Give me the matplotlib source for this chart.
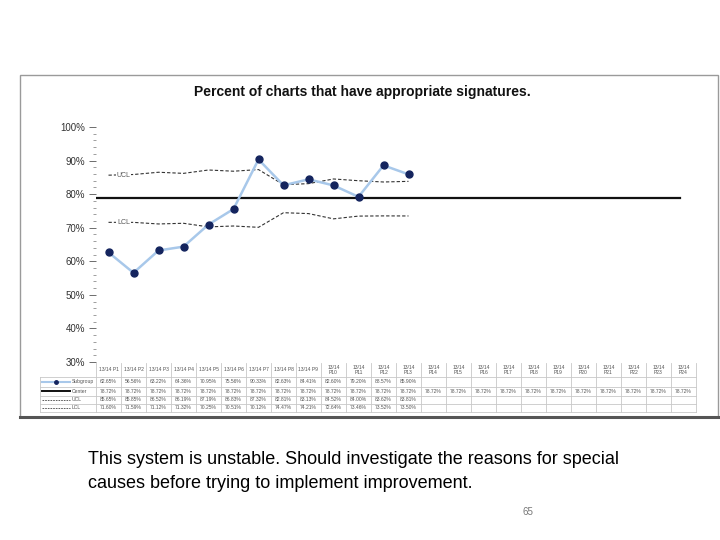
import numpy as np
import matplotlib
matplotlib.use("Agg")
import matplotlib.pyplot as plt
from matplotlib.lines import Line2D
from matplotlib.patches import Rectangle

plt.rcParams['font.family'] = ['Liberation Sans', 'DejaVu Sans']

# periods (24 columns), only 13 have data so far
periods = ["13/14 P%d" % i for i in range(1, 25)]
subgroup = [62.65, 56.56, 63.22, 64.36, 70.95, 75.56, 90.33, 82.63, 84.41, 82.60, 79.20, 88.57, 85.90]
center = [78.72] * 24
ucl = [85.65, 85.85, 86.52, 86.19, 87.19, 86.83, 87.32, 82.81, 83.13, 84.52, 84.00, 83.62, 83.81]
lcl = [71.60, 71.59, 71.12, 71.32, 70.25, 70.51, 70.12, 74.47, 74.21, 72.64, 73.46, 73.52, 73.50]

W, H = 720, 540
fig = plt.figure(figsize=(7.2, 5.4), dpi=100)

def box(x0, y0, x1, y1):
    # pixel box (top-left origin) -> figure fraction rect
    return [x0 / W, 1 - y1 / H, (x1 - x0) / W, (y1 - y0) / H]

# chart frame
fig.patches.append(Rectangle((20 / W, 1 - 417 / H), 698 / W, 342 / H, transform=fig.transFigure,
                             fill=False, edgecolor='#9a9a9a', linewidth=1.0))
fig.lines.append(Line2D([20 / W, 718 / W], [1 - 417 / H] * 2, transform=fig.transFigure,
                        color='#555555', linewidth=2.2))

fig.text(362 / W, 1 - 92 / H, "Percent of charts that have appropriate signatures.",
         ha='center', va='center', fontsize=10, fontweight='bold', color='#111111')

# main chart
ax = fig.add_axes(box(96, 127, 696, 362))
n = len(periods)
x = np.arange(n)
xs = x[:len(subgroup)]
ax.set_xlim(-0.5, n - 0.5)
ax.set_ylim(30, 100)

ax.axhline(center[0], xmin=0.0, xmax=(680 - 96) / 600, color='#111111', linewidth=1.6)
ax.plot(xs, ucl, color='#333333', linewidth=0.8, dashes=(3, 1.8))
ax.plot(xs, lcl, color='#333333', linewidth=0.8, dashes=(3, 1.8))
ax.plot(xs, subgroup, color='#a8c8ea', linewidth=1.8, marker='o', markersize=5,
        markerfacecolor='#14245e', markeredgecolor='#14245e', zorder=4)
ax.text(0.6, ucl[0], "UCL", fontsize=5, color='#555555', ha='center', va='center',
        bbox=dict(facecolor='white', edgecolor='none', pad=0.6))
ax.text(0.6, lcl[0], "LCL", fontsize=5, color='#555555', ha='center', va='center',
        bbox=dict(facecolor='white', edgecolor='none', pad=0.6))

ax.set_yticks(np.arange(30, 101, 10))
ax.set_yticklabels(["%d%%" % v for v in range(30, 101, 10)], fontsize=7, color='#333333')
ax.set_yticks(np.arange(30, 101, 2), minor=True)
ax.tick_params(axis='y', which='major', length=5, width=0.6, color='#555555', pad=3)
ax.tick_params(axis='y', which='minor', length=2, width=0.5, color='#777777')
ax.set_xticks([])
for s in ax.spines.values():
    s.set_visible(False)

# data table under the chart (pixel coordinates)
tx0, tx1 = 40, 696
rows_y = [363, 377, 387, 396, 404, 412]
tax = fig.add_axes(box(tx0, rows_y[0], tx1, rows_y[-1]))
tax.set_xlim(tx0, tx1)
tax.set_ylim(rows_y[-1], rows_y[0])
tax.axis('off')

col_edges = [96 + 25 * i for i in range(n + 1)]
grid_c = '#c8c8c8'
for y in rows_y[1:]:
    tax.plot([tx0, tx1], [y, y], color=grid_c, linewidth=0.6, clip_on=False)
tax.plot([tx0, tx0], [rows_y[1], rows_y[-1]], color=grid_c, linewidth=0.6, clip_on=False)
for xe in col_edges:
    tax.plot([xe, xe], [rows_y[0], rows_y[-1]], color=grid_c, linewidth=0.6, clip_on=False)

tfs = 3.6
tcol = '#555555'
for i, p in enumerate(periods):
    cx = col_edges[i] + 12.5
    if i < 9:
        lab = p
    else:
        lab = p.replace(" ", "\n")
    tax.text(cx, (rows_y[0] + rows_y[1]) / 2, lab, fontsize=tfs, color=tcol,
             ha='center', va='center', linespacing=1.0)

series = [("Subgroup", subgroup), ("Center", center), ("UCL", ucl), ("LCL", lcl)]
for r, (name, vals) in enumerate(series):
    cy = (rows_y[r + 1] + rows_y[r + 2]) / 2
    for i, v in enumerate(vals):
        tax.text(col_edges[i] + 12.5, cy, "%.2f%%" % v, fontsize=tfs, color=tcol,
                 ha='center', va='center')
    tax.text(72, cy, name, fontsize=tfs, color=tcol, ha='left', va='center')

# legend keys in the table
ky = [(rows_y[k] + rows_y[k + 1]) / 2 for k in range(1, 5)]
tax.plot([42, 70], [ky[0], ky[0]], color='#a8c8ea', linewidth=1.5)
tax.plot([56], [ky[0]], marker='o', markersize=2.5, color='#14245e')
tax.plot([42, 70], [ky[1], ky[1]], color='#111111', linewidth=1.4)
tax.plot([42, 70], [ky[2], ky[2]], color='#444444', linewidth=0.6, dashes=(2, 1.2))
tax.plot([42, 70], [ky[3], ky[3]], color='#444444', linewidth=0.6, dashes=(2, 1.2))

# slide text
fig.text(88 / W, 1 - 460 / H, "This system is unstable. Should investigate the reasons for special",
         fontsize=13, color='#000000', ha='left', va='center')
fig.text(88 / W, 1 - 483 / H, "causes before trying to implement improvement.",
         fontsize=13, color='#000000', ha='left', va='center')
fig.text(528 / W, 1 - 512 / H, "65", fontsize=7, color='#777777', ha='center', va='center')

fig.savefig("out.png", dpi=100)
